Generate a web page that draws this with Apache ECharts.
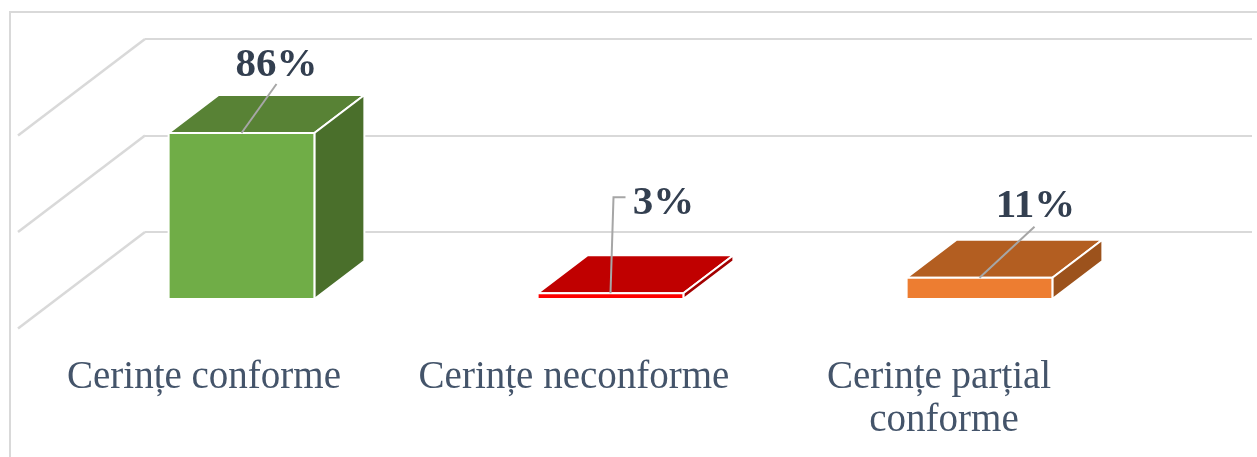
<!DOCTYPE html>
<html>
<head>
<meta charset="utf-8">
<style>
  html, body { margin: 0; padding: 0; background: #fff; overflow: hidden; }
  #chart { width: 1257px; height: 457px; }
</style>
</head>
<body>
<div id="chart"></div>
<script src="https://cdn.jsdelivr.net/npm/echarts@6/dist/echarts.min.js"></script>
<script>
const categories = ["Cerințe conforme", "Cerințe neconforme", "Cerințe parțial conforme"];
const percents = [86, 3, 11];
const gridTicks = [0, 50, 100];

const frontColors = ["#70AD47", "#FF0000", "#ED7D31"];
const topColors = ["#588235", "#C00000", "#B35E21"];
const sideColors = ["#4A6F2B", "#A30000", "#9C521C"];

// label position and leader line, relative to the middle of the bar's top front edge
const labelOffsets = [[35, -68], [53, -90], [56, -71]];
const leaderPaths = [
  [[35, -49]],
  [[3, -96], [15, -96]],
  [[55, -51]]
];

const fontName = "'Liberation Serif', serif";
const gridColor = "#D9D9D9";

// the bars stand between the back wall and the front of the floor
const barShift = [-88, 67];
const barDepth = [50, -38];
const floorDepth = [-127, 96.5];

function renderFloorLine(params, api) {
  const y = api.coord([0, api.value(1)])[1];
  const x = params.coordSys.x;
  return {
    type: "line",
    shape: { x1: x, y1: y, x2: x + floorDepth[0], y2: y + floorDepth[1] },
    style: { stroke: gridColor, lineWidth: 2.5 }
  };
}

function renderBar(params, api) {
  const i = params.dataIndex;
  const top = api.coord([i, api.value(1)]);
  const base = api.coord([i, 0]);
  const w = api.size([1, 0])[0] * 0.395;
  const cx = top[0] + barShift[0];
  const x0 = cx - w / 2;
  const x1 = cx + w / 2;
  const yt = top[1] + barShift[1];
  const yb = base[1] + barShift[1];
  const dx = barDepth[0];
  const dy = barDepth[1];
  const edge = { stroke: "#fff", lineWidth: 2 };
  const leader = [[cx, yt]].concat(leaderPaths[i].map(p => [cx + p[0], yt + p[1]]));
  return {
    type: "group",
    children: [
      {
        type: "polygon",
        shape: { points: [[x0, yt], [x1, yt], [x1 + dx, yt + dy], [x0 + dx, yt + dy]] },
        style: Object.assign({ fill: topColors[i] }, edge)
      },
      {
        type: "polygon",
        shape: { points: [[x1, yt], [x1 + dx, yt + dy], [x1 + dx, yb + dy], [x1, yb]] },
        style: Object.assign({ fill: sideColors[i] }, edge)
      },
      {
        type: "rect",
        shape: { x: x0, y: yt, width: w, height: yb - yt },
        style: Object.assign({ fill: frontColors[i] }, edge)
      },
      {
        type: "polyline",
        shape: { points: leader },
        style: { stroke: "#A6A6A6", lineWidth: 2, fill: null }
      },
      {
        type: "text",
        style: {
          text: api.value(1) + "%",
          x: cx + labelOffsets[i][0],
          y: yt + labelOffsets[i][1],
          align: "center",
          verticalAlign: "middle",
          font: "bold 41px " + fontName,
          fill: "#333F50"
        }
      }
    ]
  };
}

const chart = echarts.init(document.getElementById("chart"));
chart.setOption({
  animation: false,
  backgroundColor: "#fff",
  graphic: [
    {
      type: "rect",
      shape: { x: 10, y: 12, width: 1300, height: 500 },
      style: { fill: null, stroke: gridColor, lineWidth: 2 }
    }
  ],
  grid: [
    { left: 145, right: 5, top: 39, height: 193 },
    { left: 19, width: 1110, top: 135, height: 193 }
  ],
  xAxis: [
    { type: "category", gridIndex: 0, data: categories, show: false },
    {
      type: "category",
      gridIndex: 1,
      data: categories,
      axisLine: { show: false },
      axisTick: { show: false },
      axisLabel: {
        margin: 28,
        interval: 0,
        width: 340,
        overflow: "break",
        lineHeight: 43,
        fontFamily: fontName,
        fontSize: 39,
        color: "#44546A"
      }
    }
  ],
  yAxis: [
    {
      type: "value",
      gridIndex: 0,
      min: 0,
      max: 100,
      interval: 50,
      axisLine: { show: false },
      axisTick: { show: false },
      axisLabel: { show: false },
      splitLine: { show: true, lineStyle: { color: gridColor, width: 2 } }
    },
    { type: "value", gridIndex: 1, min: 0, max: 100, show: false, splitLine: { show: false } }
  ],
  series: [
    {
      type: "custom",
      xAxisIndex: 0,
      yAxisIndex: 0,
      clip: false,
      silent: true,
      z: 1,
      renderItem: renderFloorLine,
      encode: { x: 0, y: 1 },
      data: gridTicks.map(t => [0, t])
    },
    {
      type: "custom",
      name: "Cerințe",
      xAxisIndex: 0,
      yAxisIndex: 0,
      clip: false,
      z: 5,
      renderItem: renderBar,
      encode: { x: 0, y: 1 },
      data: percents.map((v, i) => [i, v])
    }
  ]
});
</script>
</body>
</html>
